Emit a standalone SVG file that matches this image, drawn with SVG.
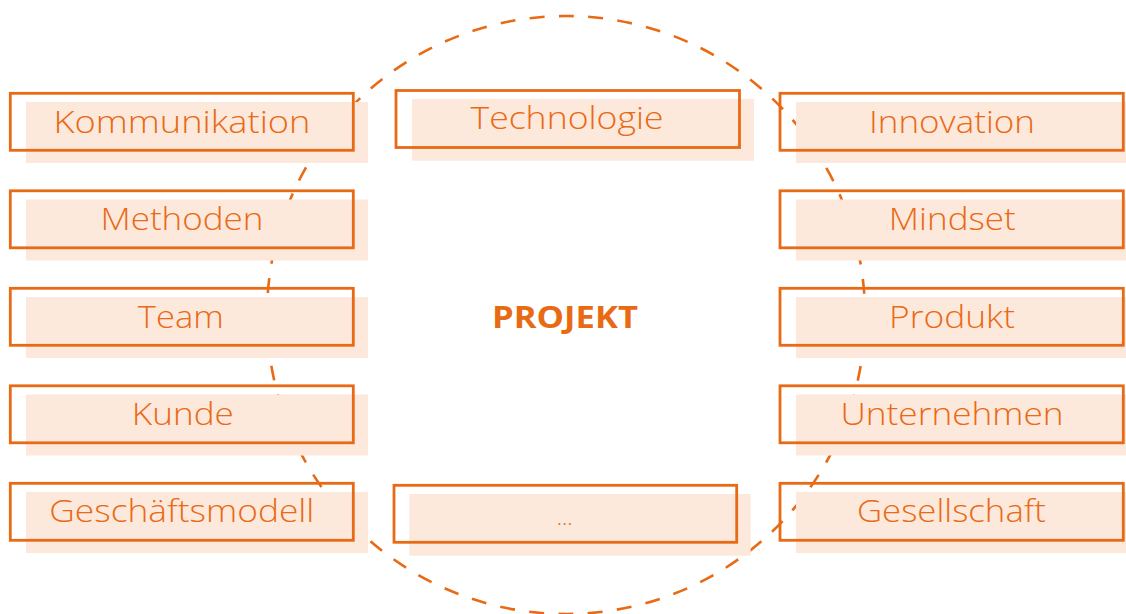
<svg xmlns="http://www.w3.org/2000/svg" width="1126" height="614" viewBox="0 0 1126 614">
  <style>
    .ring { fill: none; stroke: #E96A14; stroke-width: 2.6; stroke-dasharray: 15 14.35; stroke-dashoffset: 7.5; }
    .shade { fill: #FDE8DC; stroke: none; }
    .frame { fill: none; stroke: #E96A14; stroke-width: 2.8; }
    .label { font-family: "Open Sans", "Liberation Sans", sans-serif; font-weight: 300; font-size: 31px; fill: #E96A14; text-anchor: middle; }
    .core { font-family: "Open Sans", "Liberation Sans", sans-serif; font-weight: 700; font-size: 30px; fill: #E96A14; text-anchor: middle; }
  </style>

  <!-- dashed project boundary -->
  <g id="connectors">
    <circle class="ring" cx="566" cy="315" r="299"/>
  </g>

  <!-- left column -->
  <g id="n-kommunikation" transform="translate(10.3,93.3)">
    <rect class="shade" x="15.7" y="8.7" width="342" height="61"/>
    <rect class="frame" x="0" y="0" width="343" height="57"/>
    <text class="label" x="171.7" y="39.5" textLength="257" lengthAdjust="spacingAndGlyphs">Kommunikation</text>
  </g>
  <g id="n-methoden" transform="translate(10.3,190.8)">
    <rect class="shade" x="15.7" y="8.7" width="342" height="61"/>
    <rect class="frame" x="0" y="0" width="343" height="57"/>
    <text class="label" x="171.7" y="39.5" textLength="163" lengthAdjust="spacingAndGlyphs">Methoden</text>
  </g>
  <g id="n-team" transform="translate(10.3,288.3)">
    <rect class="shade" x="15.7" y="8.7" width="342" height="61"/>
    <rect class="frame" x="0" y="0" width="343" height="57"/>
    <text class="label" x="170.5" y="39.5" textLength="86" lengthAdjust="spacingAndGlyphs">Team</text>
  </g>
  <g id="n-kunde" transform="translate(10.3,385.8)">
    <rect class="shade" x="15.7" y="8.7" width="342" height="61"/>
    <rect class="frame" x="0" y="0" width="343" height="57"/>
    <text class="label" x="172.5" y="39" textLength="102" lengthAdjust="spacingAndGlyphs">Kunde</text>
  </g>
  <g id="n-geschaeftsmodell" transform="translate(10.3,483.3)">
    <rect class="shade" x="15.7" y="8.7" width="342" height="61"/>
    <rect class="frame" x="0" y="0" width="343" height="57"/>
    <text class="label" x="171.5" y="38.5" textLength="265" lengthAdjust="spacingAndGlyphs">Geschäftsmodell</text>
  </g>

  <!-- centre column -->
  <g id="n-technologie" transform="translate(396,90.5)">
    <rect class="shade" x="16" y="8.5" width="342" height="61.7"/>
    <rect class="frame" x="0" y="0" width="343.5" height="57"/>
    <text class="label" x="171" y="38.5" textLength="193" lengthAdjust="spacingAndGlyphs">Technologie</text>
  </g>
  <g id="n-projekt">
    <text class="core" x="565" y="327.7" textLength="146" lengthAdjust="spacingAndGlyphs">PROJEKT</text>
  </g>
  <g id="n-weitere" transform="translate(394,485.3)">
    <rect class="shade" x="15.3" y="8.7" width="341.4" height="61.7"/>
    <rect class="frame" x="0" y="0" width="342.7" height="57"/>
    <text class="label" x="170.7" y="39.7" style="font-size:22px" textLength="16" lengthAdjust="spacingAndGlyphs">...</text>
  </g>

  <!-- right column -->
  <g id="n-innovation" transform="translate(780,93.3)">
    <rect class="shade" x="16" y="8.7" width="342" height="61"/>
    <rect class="frame" x="0" y="0" width="343.3" height="57"/>
    <text class="label" x="172" y="39.5" textLength="166" lengthAdjust="spacingAndGlyphs">Innovation</text>
  </g>
  <g id="n-mindset" transform="translate(780,190.8)">
    <rect class="shade" x="16" y="8.7" width="342" height="61"/>
    <rect class="frame" x="0" y="0" width="343.3" height="57"/>
    <text class="label" x="172.3" y="39.5" textLength="127" lengthAdjust="spacingAndGlyphs">Mindset</text>
  </g>
  <g id="n-produkt" transform="translate(780,288.3)">
    <rect class="shade" x="16" y="8.7" width="342" height="61"/>
    <rect class="frame" x="0" y="0" width="343.3" height="57"/>
    <text class="label" x="172" y="39.5" textLength="126" lengthAdjust="spacingAndGlyphs">Produkt</text>
  </g>
  <g id="n-unternehmen" transform="translate(780,385.8)">
    <rect class="shade" x="16" y="8.7" width="342" height="61"/>
    <rect class="frame" x="0" y="0" width="343.3" height="57"/>
    <text class="label" x="172" y="39" textLength="223" lengthAdjust="spacingAndGlyphs">Unternehmen</text>
  </g>
  <g id="n-gesellschaft" transform="translate(780,483.3)">
    <rect class="shade" x="16" y="8.7" width="342" height="61"/>
    <rect class="frame" x="0" y="0" width="343.3" height="57"/>
    <text class="label" x="171.4" y="38.5" textLength="189" lengthAdjust="spacingAndGlyphs">Gesellschaft</text>
  </g>
</svg>
